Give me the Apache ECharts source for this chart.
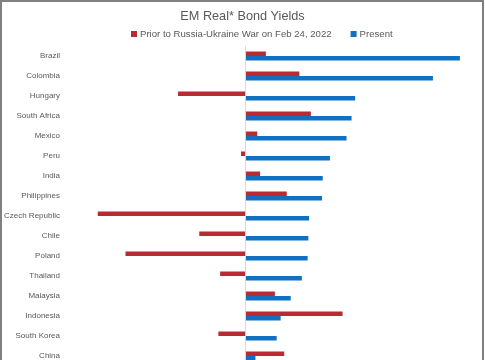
<!DOCTYPE html>
<html>
<head>
<meta charset="utf-8">
<script src="https://cdn.jsdelivr.net/npm/echarts@6/dist/echarts.min.js"></script>
<style>
html,body{margin:0;padding:0;background:#fff;}
#chart{width:485px;height:360px;}
</style>
</head>
<body>
<div id="chart"></div>
<script>
const categories = ["Brazil","Colombia","Hungary","South Africa","Mexico","Peru","India","Philippines","Czech Republic","Chile","Poland","Thailand","Malaysia","Indonesia","South Korea","China"];
const priorValues = [0.58,1.51,-1.86,1.83,0.34,-0.11,0.42,1.16,-4.09,-1.27,-3.32,-0.69,0.83,2.71,-0.74,1.09];
const presentValues = [5.97,5.22,3.06,2.96,2.82,2.36,2.16,2.14,1.78,1.76,1.74,1.58,1.27,0.99,0.88,0.29];
const seriesNames = ["Prior to Russia-Ukraine War on Feb 24, 2022","Present"];

const chart = echarts.init(document.getElementById('chart'), null, {renderer:'canvas'});
chart.setOption({
  animation:false,
  backgroundColor:'#ffffff',
  title:{
    text:'EM Real* Bond Yields',
    left:'center', top:5,
    textStyle:{fontFamily:'Liberation Sans, Arial', fontSize:12.7, fontWeight:'normal', color:'#595959'}
  },
  legend:{
    top:24, left:126,
    itemWidth:6, itemHeight:6, itemGap:19,
    icon:'rect',
    textStyle:{fontFamily:'Liberation Sans, Arial', fontSize:9.6, color:'#595959', padding:[0,0,0,-2]},
    data:seriesNames
  },
  grid:{left:65, top:46, width:414, height:320, containLabel:false, outerBoundsMode:'none'},
  xAxis:{
    type:'value', min:-5, max:6.5, show:false
  },
  yAxis:{
    type:'category', data:categories, inverse:true,
    axisLine:{show:false}, axisTick:{show:false},
    axisLabel:{fontFamily:'Liberation Sans, Arial', fontSize:8, color:'#595959', margin:5},
    splitLine:{show:false}
  },
  series:[
    {
      name:seriesNames[0], type:'bar', data:priorValues,
      barWidth:4.5, barGap:'0%',
      itemStyle:{color:'#BA2A33'},
      markLine:{
        silent:true, symbol:'none', label:{show:false},
        lineStyle:{color:'#d9d9d9', width:1, type:'solid'},
        data:[{xAxis:0}]
      }
    },
    {
      name:seriesNames[1], type:'bar', data:presentValues,
      barWidth:4.5, barGap:'0%',
      itemStyle:{color:'#1170C0'}
    }
  ],
  graphic:[
    {type:'rect', shape:{x:1, y:1, width:482, height:400}, style:{fill:'none', stroke:'#808080', lineWidth:2}, silent:true}
  ]
});
</script>
</body>
</html>
